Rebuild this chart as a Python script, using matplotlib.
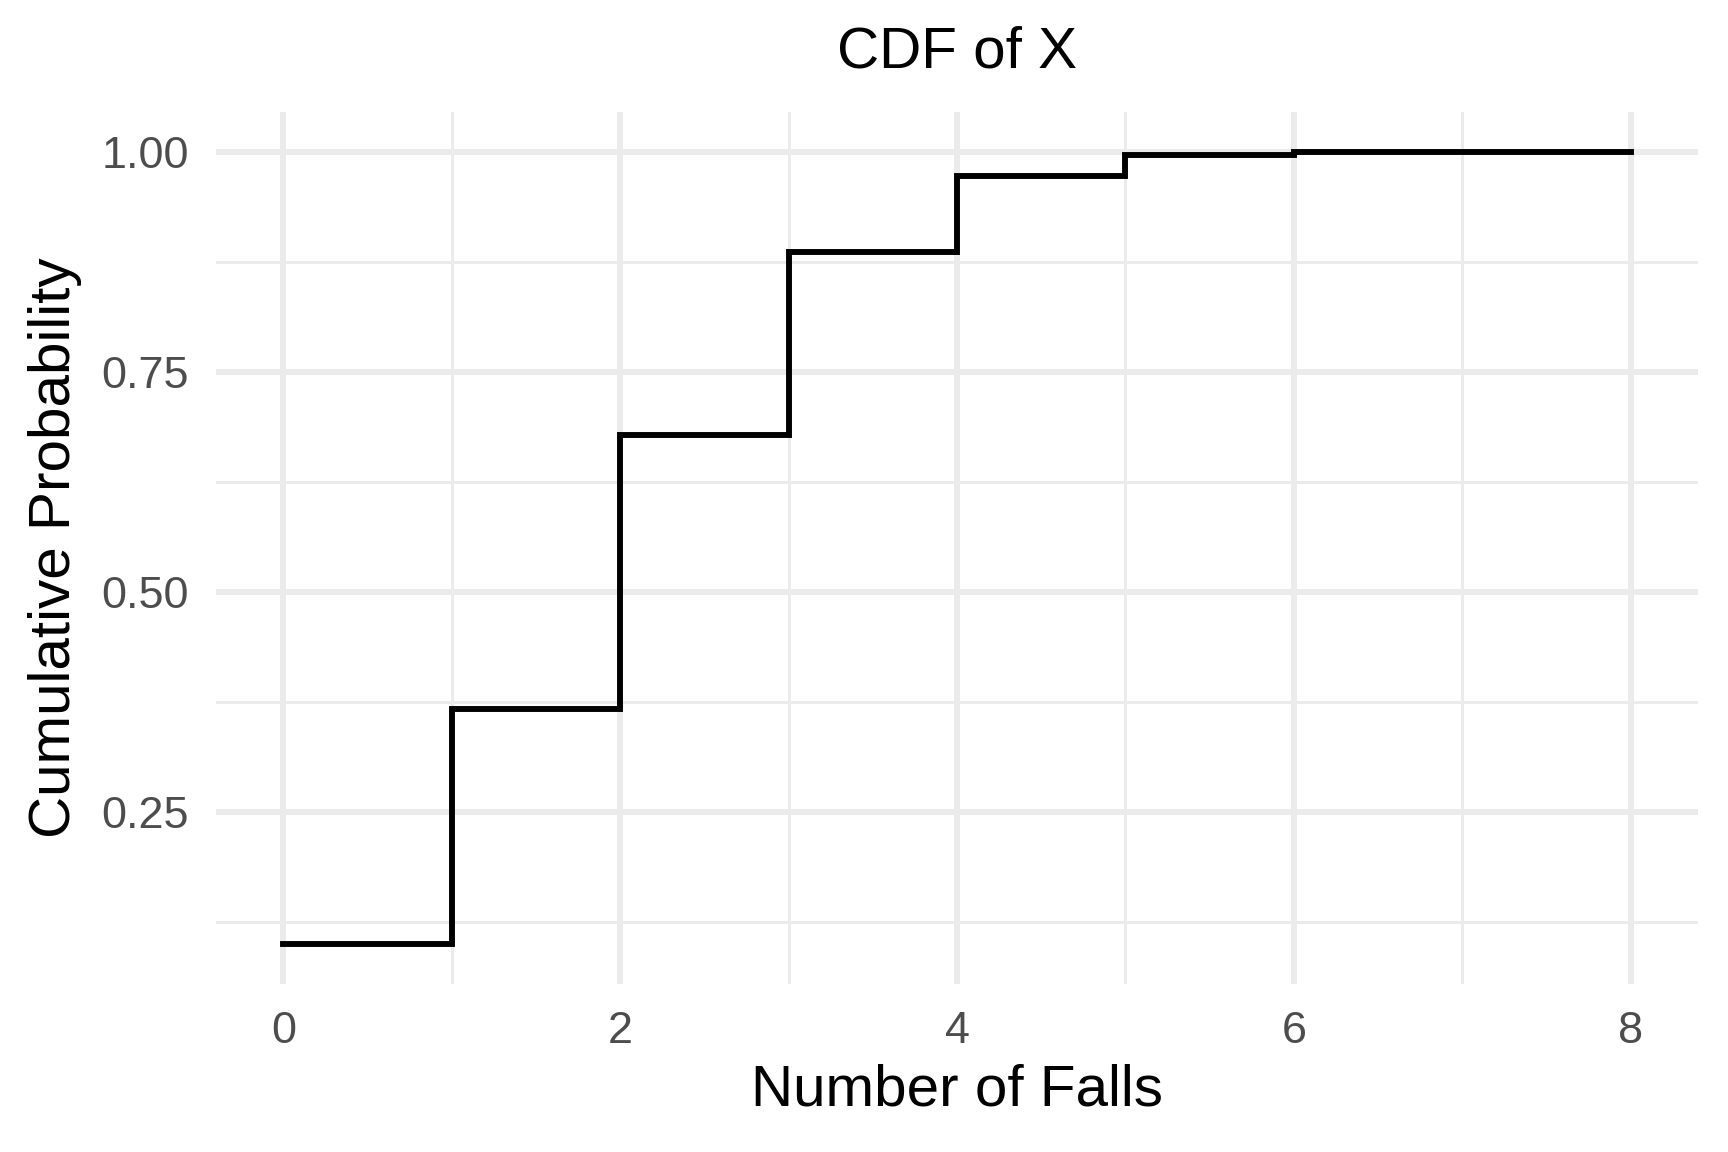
import matplotlib
matplotlib.use("Agg")
import matplotlib.pyplot as plt
import numpy as np

# Data
falls = [0, 1, 2, 3, 4, 5, 6, 7, 8]
cum_prob = [0.1001, 0.3671, 0.6785, 0.8862, 0.9727, 0.9958, 0.9996, 1.0000, 1.0000]
x_ticks = [0, 2, 4, 6, 8]
y_ticks = [0.25, 0.50, 0.75, 1.00]
y_tick_labels = ["0.25", "0.50", "0.75", "1.00"]

plt.rcParams['font.family'] = ['Liberation Sans', 'DejaVu Sans']

W, H = 1728, 1152
fig = plt.figure(figsize=(W / 300, H / 300), dpi=300)
left, right, top, bottom = 216, 1698, 112, 984
ax = fig.add_axes([left / W, 1 - bottom / H, (right - left) / W, (bottom - top) / H])

ax.step(falls, cum_prob, where='post', color='black', linewidth=1.42, solid_joinstyle='miter', zorder=3)

xr = max(falls) - min(falls)
ax.set_xlim(min(falls) - 0.05 * xr, max(falls) + 0.05 * xr)
yr = max(cum_prob) - min(cum_prob)
ax.set_ylim(min(cum_prob) - 0.05 * yr, max(cum_prob) + 0.05 * yr)

ax.set_xticks(x_ticks)
ax.set_xticklabels([str(v) for v in x_ticks])
ax.set_yticks(y_ticks)
ax.set_yticklabels(y_tick_labels)
ax.set_xticks([1, 3, 5, 7], minor=True)
ax.set_yticks([0.125, 0.375, 0.625, 0.875], minor=True)

ax.grid(True, which='major', color='#EBEBEB', linewidth=1.42, zorder=0)
ax.grid(True, which='minor', color='#EBEBEB', linewidth=0.71, zorder=0)
ax.set_axisbelow(True)
for s in ax.spines.values():
    s.set_visible(False)
ax.tick_params(which='both', length=0)
ax.tick_params(axis='both', which='major', labelsize=10.8, labelcolor='#4D4D4D', pad=6.5)

fig.text((left + right) / 2 / W, 1 - 53 / H, "CDF of X", ha='center', va='center', fontsize=14)
fig.text((left + right) / 2 / W, 1 - 1091 / H, "Number of Falls", ha='center', va='center', fontsize=14)
fig.text(55 / W, 1 - (top + bottom) / 2 / H, "Cumulative Probability", ha='center', va='center',
         rotation=90, fontsize=14)

fig.savefig("out.png", dpi=300, facecolor='white')
